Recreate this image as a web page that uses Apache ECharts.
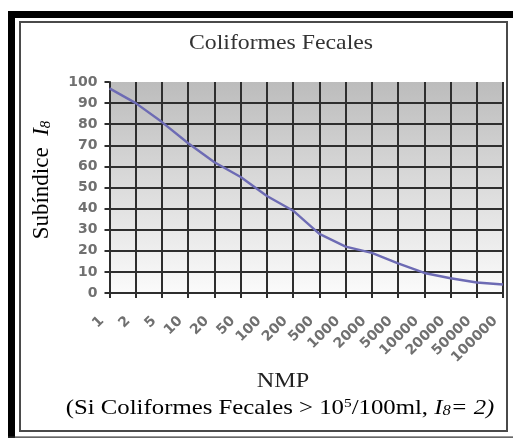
<!DOCTYPE html>
<html>
<head>
<meta charset="utf-8">
<script src="https://cdn.jsdelivr.net/npm/echarts@6/dist/echarts.min.js"></script>
<style>html,body{margin:0;padding:0;background:#fff;}#c{width:513px;height:439px;}</style>
</head>
<body>
<div id="c"></div>
<script>
var categories = ['1','2','5','10','20','50','100','200','500','1000','2000','5000','10000','20000','50000','100000'];
var subindice = [97, 90, 81, 71, 62, 55, 46, 39, 28, 22, 19, 14, 9.5, 7, 5, 4];
var yMin = 0, yMax = 100, yStep = 10;

var chart = echarts.init(document.getElementById('c'), null, {renderer: 'canvas'});
var serif = '"Liberation Serif", "Times New Roman", serif';
var sans = '"DejaVu Sans", Verdana, sans-serif';
var gridColor = '#2e2e2e';
chart.setOption({
  animation: false,
  backgroundColor: '#ffffff',
  grid: {
    left: 109.5, right: 10, top: 82, bottom: 146,
    show: true, borderWidth: 0,
    backgroundColor: {
      type: 'linear', x: 0, y: 0, x2: 0, y2: 1,
      colorStops: [{offset: 0, color: '#bcbcbc'}, {offset: 1, color: '#fbfbfb'}]
    }
  },
  xAxis: {
    type: 'category', data: categories, boundaryGap: false,
    axisLine: {show: true, lineStyle: {color: gridColor, width: 2}},
    axisTick: {show: true, length: 5, alignWithLabel: true, lineStyle: {color: gridColor, width: 2}},
    splitLine: {show: true, lineStyle: {color: gridColor, width: 2}},
    axisLabel: {
      rotate: 45, margin: 18, interval: 0, padding: [0, 11, 0, 0],
      fontFamily: sans, fontSize: 14, fontWeight: 'bold', color: '#707070'
    }
  },
  yAxis: {
    type: 'value', min: yMin, max: yMax, interval: yStep,
    axisLine: {show: true, lineStyle: {color: gridColor, width: 2}},
    axisTick: {show: true, length: 5, lineStyle: {color: gridColor, width: 2}},
    splitLine: {show: true, showMaxLine: false, lineStyle: {color: gridColor, width: 2}},
    axisLabel: {
      margin: 12,
      fontFamily: sans, fontSize: 14, fontWeight: 'bold', color: '#707070'
    }
  },
  series: [{
    type: 'line', data: subindice, showSymbol: false, smooth: false,
    lineStyle: {color: '#6d6bb4', width: 2.4},
    z: 5
  }],
  graphic: [
    {type: 'rect', shape: {x: 8, y: 11, width: 505, height: 7}, style: {fill: '#000'}, silent: true},
    {type: 'rect', shape: {x: 8, y: 11, width: 7, height: 427}, style: {fill: '#000'}, silent: true},
    {type: 'rect', shape: {x: 8, y: 436.5, width: 505, height: 1.2}, style: {fill: '#333'}, silent: true},
    {type: 'rect', shape: {x: 20, y: 22, width: 487, height: 409}, style: {fill: 'none', stroke: '#4a4a4a', lineWidth: 2}, silent: true},
    {type: 'text', x: 281, y: 43, scaleX: 1.08,
      style: {text: 'Coliformes Fecales', font: '22px ' + serif, fill: '#333', align: 'center', verticalAlign: 'middle'}},
    {type: 'text', x: 42, y: 180, rotation: Math.PI / 2,
      style: {text: '{n|Subíndice  }{i|I}{s|8}', align: 'center', verticalAlign: 'middle',
        rich: {
          n: {fontFamily: serif, fontSize: 23, color: '#333'},
          i: {fontFamily: serif, fontSize: 23, fontStyle: 'italic', color: '#333'},
          s: {fontFamily: serif, fontSize: 15, fontStyle: 'italic', color: '#333', verticalAlign: 'bottom', padding: [8, 0, 0, 0]}
        }}},
    {type: 'text', x: 283, y: 381, scaleX: 1.1,
      style: {text: 'NMP', font: '22px ' + serif, fill: '#222', align: 'center', verticalAlign: 'middle'}},
    {type: 'text', x: 280, y: 408, scaleX: 1.18,
      style: {text: '{n|(Si Coliformes Fecales > 10}{p|5}{n|/100ml, }{i|I}{s|8}{i|= 2)}', align: 'center', verticalAlign: 'middle',
        rich: {
          n: {fontFamily: serif, fontSize: 21, color: '#222'},
          p: {fontFamily: serif, fontSize: 13, color: '#222', verticalAlign: 'top'},
          i: {fontFamily: serif, fontSize: 21, fontStyle: 'italic', color: '#222'},
          s: {fontFamily: serif, fontSize: 14, fontStyle: 'italic', color: '#222', verticalAlign: 'bottom', padding: [6, 0, 0, 0]}
        }}}
  ]
});
</script>
</body>
</html>
